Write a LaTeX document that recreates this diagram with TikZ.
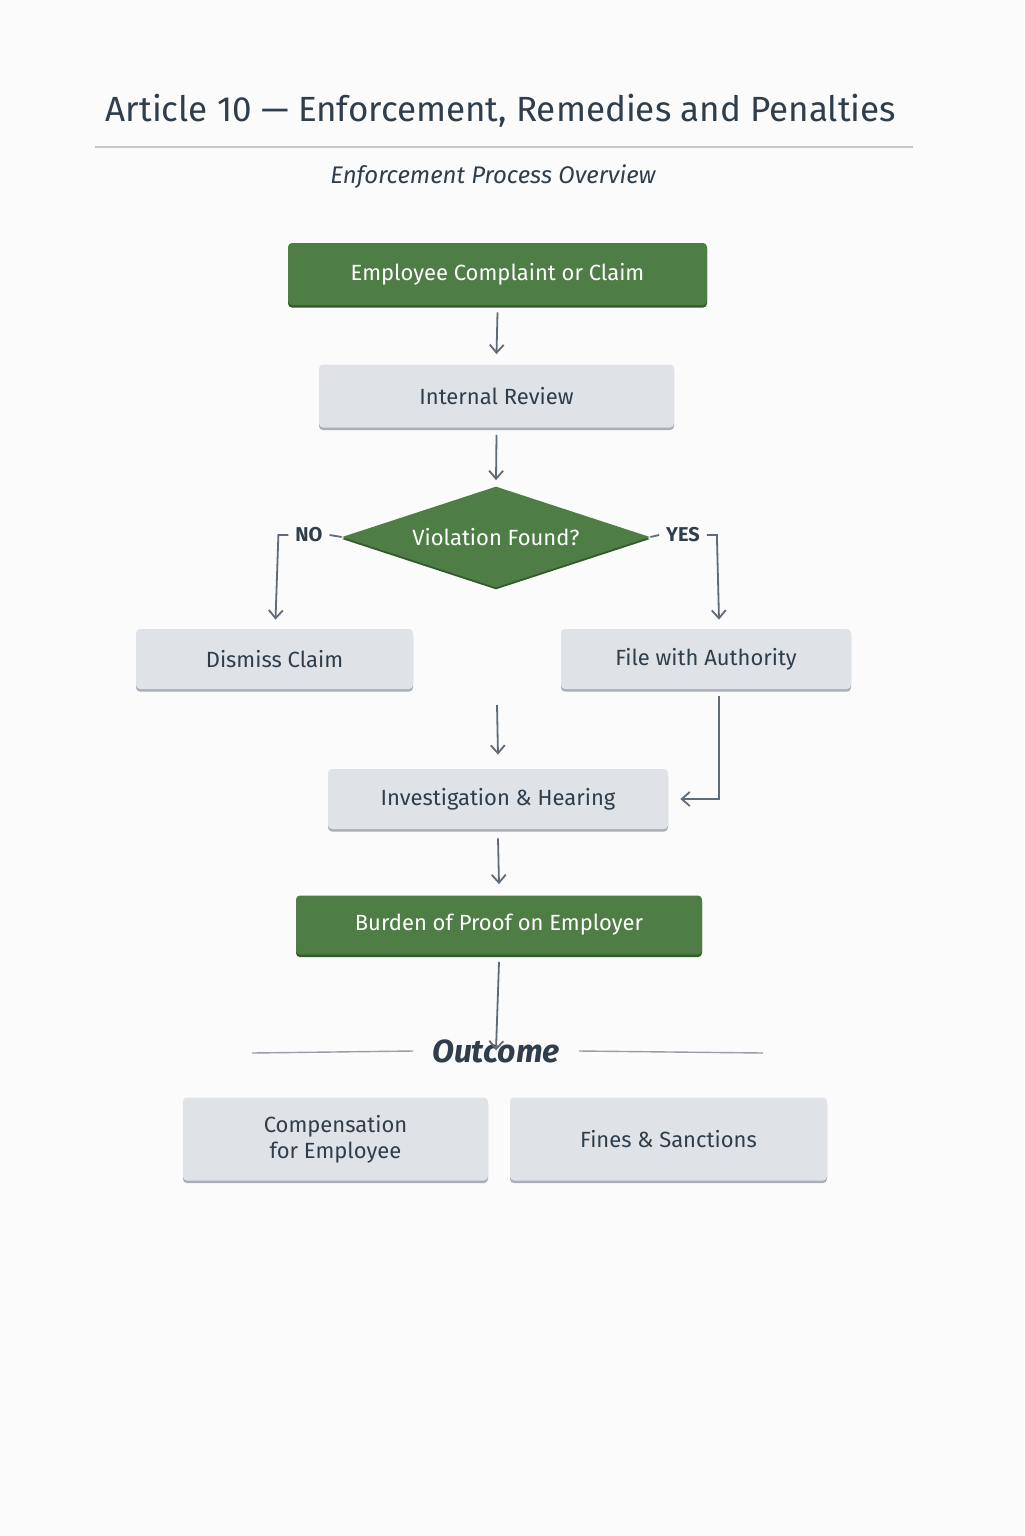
\documentclass[tikz,border=0pt]{standalone}
\usepackage{fontspec}
\setmainfont{Fira Sans}
\usetikzlibrary{arrows.meta,shapes.geometric}
\definecolor{ink}{HTML}{2F3E4A}
\definecolor{grn}{HTML}{4E7D45}
\definecolor{grndark}{HTML}{36592F}
\definecolor{boxgray}{HTML}{DFE2E7}
\definecolor{boxedge}{HTML}{A9AFB8}
\definecolor{arrowgray}{HTML}{5F6B77}
\begin{document}
\begin{tikzpicture}[x=0.5pt, y=-0.5pt,
  greenbox/.style={rectangle, rounded corners=2pt, fill=grn, text=white, font=\fontsize{11}{13}\selectfont,
    preaction={fill=grndark, transform canvas={yshift=-1.3pt}}},
  graybox/.style={rectangle, rounded corners=2pt, fill=boxgray, text=ink, font=\fontsize{11}{13}\selectfont, align=center,
    preaction={fill=boxedge, transform canvas={yshift=-1.3pt}}},
  flow/.style={draw=arrowgray, line width=0.9pt, -{Straight Barb[length=4pt,width=7pt]}},
  plain/.style={draw=arrowgray, line width=0.9pt},
  lbl/.style={text=ink, font=\fontsize{10}{12}\selectfont\bfseries}]

  \fill[white!97!gray] (0,0) rectangle (1024,1536);
  \useasboundingbox (0,0) rectangle (1024,1536);

  % header
  \node[text=ink, font=\fontsize{17.5}{20}\selectfont] (title) at (501,111) {Article 10 — Enforcement, Remedies and Penalties};
  \draw[boxedge!70, line width=0.6pt] (95,147) -- (913,147);
  \node[text=ink, font=\fontsize{12}{14}\selectfont\itshape] (subtitle) at (493,177) {Enforcement Process Overview};

  % flow
  \node[greenbox, minimum width=209.5pt, minimum height=31pt] (claim) at (497.5,274) {Employee Complaint or Claim};
  \node[graybox, minimum width=177.5pt, minimum height=31.5pt] (review) at (496.5,396) {Internal Review};
  \node[diamond, aspect=3.05, fill=grn, inner sep=0pt, minimum width=154pt, minimum height=50.5pt,
    text=white, font=\fontsize{11}{13}\selectfont,
    preaction={fill=grndark, transform canvas={yshift=-1pt}}] (violation) at (496,537) {Violation Found?};
  \node[graybox, minimum width=138.5pt, minimum height=30pt] (dismiss) at (274.5,659) {Dismiss Claim};
  \node[graybox, minimum width=145pt, minimum height=30pt] (file) at (706,659) {File with Authority};
  \node[graybox, minimum width=170pt, minimum height=30pt] (hearing) at (498,799) {Investigation \& Hearing};
  \node[greenbox, minimum width=203pt, minimum height=29.5pt] (burden) at (499,925) {Burden of Proof on Employer};
  \node[text=ink, font=\fontsize{16}{18}\selectfont\itshape\bfseries] (outcome) at (496,1051) {Outcome};
  \node[graybox, minimum width=152.5pt, minimum height=41.5pt] (comp) at (335.5,1139) {Compensation\\for Employee};
  \node[graybox, minimum width=158.5pt, minimum height=41.5pt] (fines) at (668.5,1139) {Fines \& Sanctions};

  \node[lbl] (no) at (309,535) {NO};
  \node[lbl] (yes) at (683,535) {YES};
  \coordinate (gap) at (497,705);
  \coordinate (olL) at (252,1053);
  \coordinate (olR) at (763,1053);

  % connectors
  \draw[flow] ([yshift=-3.5pt]claim.south) -- ([yshift=5pt]review.north);
  \draw[flow] ([yshift=-3.5pt]review.south) -- ([yshift=3pt]violation.north);
  \draw[plain] (violation.west) -- (no.east);
  \draw[flow] (no.west) -- ++(-10,0) |- ++(0,0) -- ([xshift=0.5pt,yshift=4.5pt]dismiss.north);
  \draw[plain] (violation.east) -- (yes.west);
  \draw[flow] (yes.east) -- ++(10,0) -- ([xshift=6.5pt,yshift=4.5pt]file.north);
  \draw[flow] (gap) -- ([yshift=7pt]hearing.north);
  \draw[flow] ([xshift=6.5pt,yshift=-3.5pt]file.south) |- ([xshift=6pt]hearing.east);
  \draw[flow] ([yshift=-4.5pt]hearing.south) -- ([yshift=5.5pt]burden.north);
  \draw[flow] ([yshift=-3.5pt]burden.south) -- ([yshift=-9pt]outcome.north);
  \draw[boxedge!90!black, line width=0.7pt] (olL) -- ([xshift=-6pt]outcome.west);
  \draw[boxedge!90!black, line width=0.7pt] ([xshift=6pt]outcome.east) -- (olR);
\end{tikzpicture}
\end{document}
